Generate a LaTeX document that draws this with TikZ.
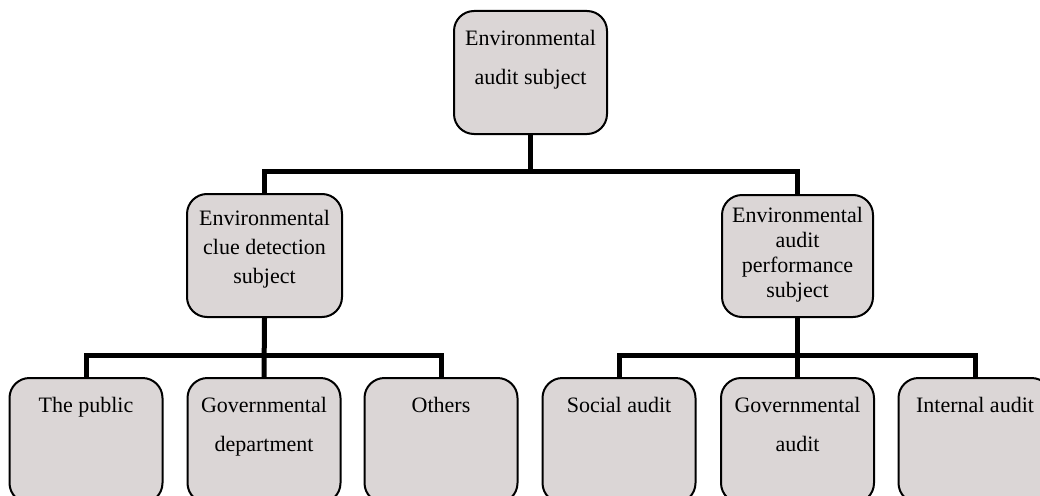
\documentclass[tikz,border=0pt]{standalone}
\usepackage{fontspec}
\setmainfont{Liberation Serif}
\definecolor{boxfill}{RGB}{219,214,214}
\begin{document}
\begin{tikzpicture}[x=1pt,y=-1pt,
  box/.style={draw=black,line width=2pt,fill=boxfill,rounded corners=20pt,
    minimum width=153pt,minimum height=123pt,inner sep=0pt},
  lowbox/.style={box,minimum height=125pt},
  conn/.style={line width=5pt,line join=miter},
  txt/.style={anchor=north,align=center,inner sep=0pt,text depth=0pt},
  fa/.style={font=\fontsize{22}{39}\selectfont},
  fb/.style={font=\fontsize{22}{29}\selectfont},
  fc/.style={font=\fontsize{22}{25}\selectfont}]
\fill[white] (0,0) rectangle (1040,495);
\useasboundingbox (0,0) rectangle (1040,495);
\clip (0,0) rectangle (1040,495);
% boxes
\node[box] (top) at (530.5,72.5) {};
\node[box,minimum width=155pt] (ml) at (264.5,255.5) {};
\node[box,minimum width=151pt,minimum height=122pt] (mr) at (797.5,256) {};
\node[lowbox] (b1) at (86,440.5) {};
\node[lowbox] (b2) at (264,440.5) {};
\node[lowbox] (b3) at (441,440.5) {};
\node[lowbox] (b4) at (619,440.5) {};
\node[lowbox] (b5) at (797.5,440.5) {};
\node[lowbox] (b6) at (975,440.5) {};
% texts
\node[txt,fa] (ttop) at ([yshift=-20pt]top.north) {Environmental\\audit subject};
\node[txt,fb] (tml) at ([yshift=-17pt]ml.north) {Environmental\\clue detection\\subject};
\node[txt,fc] (tmr) at ([yshift=-13pt]mr.north) {Environmental\\audit\\performance\\subject};
\node[txt,fa] (tb1) at ([yshift=-20pt]b1.north) {The public};
\node[txt,fa] (tb2) at ([yshift=-20pt]b2.north) {Governmental\\department};
\node[txt,fa] (tb3) at ([yshift=-20pt]b3.north) {Others};
\node[txt,fa] (tb4) at ([yshift=-20pt]b4.north) {Social audit};
\node[txt,fa] (tb5) at ([yshift=-20pt]b5.north) {Governmental\\audit};
\node[txt,fa] (tb6) at ([yshift=-20pt]b6.north) {Internal audit};
% connectors
\draw[conn] (top.south) -- ++(0,38);
\draw[conn] (ml.north) -- ++(0,-22) -| (mr.north);
\draw[conn] (ml.south) -- (b2.north);
\draw[conn] (mr.south) -- (b5.north);
\draw[conn] (b1.north) -- ++(0,-22) -| (b3.north);
\draw[conn] (b4.north) -- ++(0,-22) -| (b6.north);
\end{tikzpicture}
\end{document}
